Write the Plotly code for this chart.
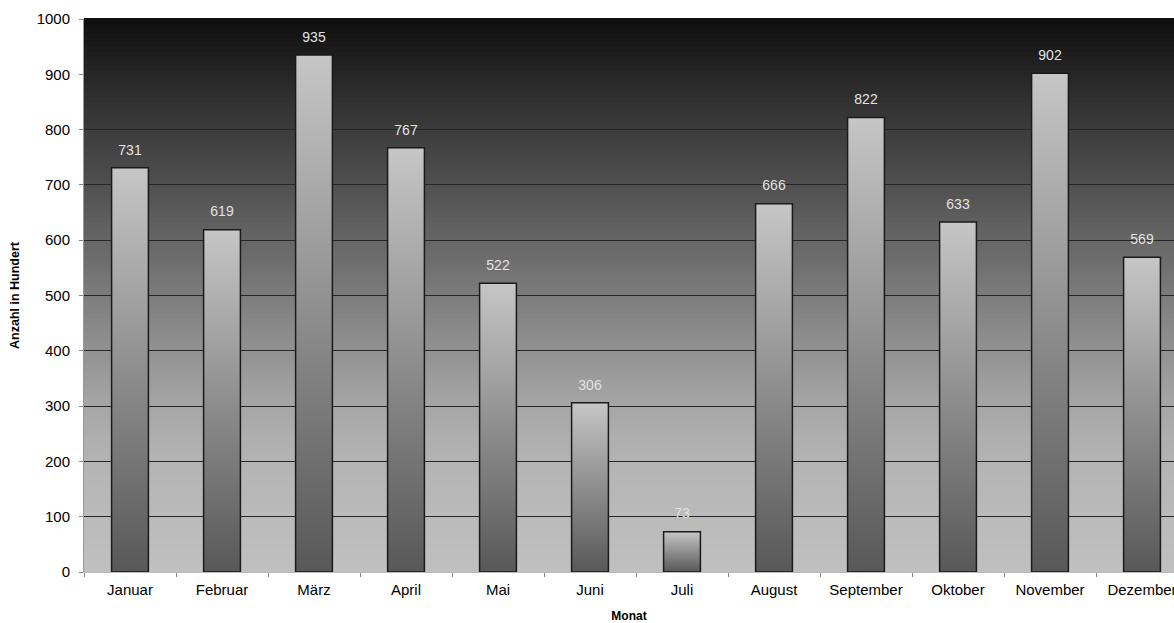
import plotly.graph_objects as go

months = ["Januar", "Februar", "März", "April", "Mai", "Juni", "Juli",
          "August", "September", "Oktober", "November", "Dezember"]
values = [731, 619, 935, 767, 522, 306, 73, 666, 822, 633, 902, 569]
y_ticks = [0, 100, 200, 300, 400, 500, 600, 700, 800, 900, 1000]

FONT = "Liberation Sans, Arial, sans-serif"
BAR_W = 0.4
X_RANGE = [-0.5, 11.5 - 14 / 92]

fig = go.Figure()

# invisible bar trace carrying the values on the category axis
fig.add_trace(go.Bar(
    x=months, y=values, width=BAR_W,
    marker=dict(color="rgba(0,0,0,0)", line=dict(width=0)),
    textposition="none", hoverinfo="x+y", showlegend=False,
))

# gradient-filled bars drawn on a hidden numeric overlay axis
for i, v in enumerate(values):
    fig.add_trace(go.Scatter(
        x=[i - BAR_W / 2, i + BAR_W / 2, i + BAR_W / 2, i - BAR_W / 2, i - BAR_W / 2],
        y=[0, 0, v, v, 0],
        xaxis="x2", mode="lines", fill="toself",
        line=dict(color="#1a1a1a", width=1.5),
        fillgradient=dict(type="vertical",
                          colorscale=[[0, "#585858"], [0.5, "#8e8e8e"], [1, "#c6c6c6"]]),
        hoverinfo="skip", showlegend=False,
    ))

# value labels
fig.add_trace(go.Scatter(
    x=list(range(len(values))), y=values, xaxis="x2",
    mode="markers+text", text=[str(v) for v in values], textposition="top center",
    marker=dict(size=14, color="rgba(0,0,0,0)"),
    textfont=dict(family=FONT, size=14, color="#e2e2e2"),
    hoverinfo="skip", showlegend=False,
))

# background gradient (plot area), dark at top -> light at bottom
bg_stops = [(0.0, 0xc0), (0.2, 0xb4), (0.3, 0xa6), (0.4, 0x92), (0.5, 0x7c),
            (0.6, 0x66), (0.7, 0x50), (0.8, 0x3c), (0.9, 0x26), (1.0, 0x0e)]
shapes = []
N = 120
for k in range(N):
    t = (k + 0.5) / N
    for j in range(len(bg_stops) - 1):
        a, ca = bg_stops[j]
        b, cb = bg_stops[j + 1]
        if a <= t <= b:
            c = int(round(ca + (cb - ca) * (t - a) / (b - a)))
            break
    shapes.append(dict(type="rect", xref="paper", yref="paper",
                       x0=0, x1=1, y0=k / N, y1=(k + 1) / N + 0.002,
                       fillcolor=f"rgb({c},{c},{c})", line=dict(width=0),
                       layer="below"))

fig.update_layout(
    width=1174, height=623, autosize=False,
    margin=dict(l=84, r=0, t=19, b=51),
    paper_bgcolor="white", plot_bgcolor="#c0c0c0",
    font=dict(family=FONT, size=15, color="black"),
    shapes=shapes,
    xaxis=dict(type="category", range=X_RANGE, tickson="boundaries",
               ticks="outside", ticklen=4, tickcolor="#888",
               showgrid=False, showline=True, linecolor="#bbbbbb", linewidth=1,
               tickfont=dict(size=15), ticklabelstandoff=4, automargin=False,
               title=dict(text="<b>Monat</b>", font=dict(size=12), standoff=16)),
    xaxis2=dict(overlaying="x", range=X_RANGE, visible=False, showgrid=False),
    yaxis=dict(range=[0, 1000], tickvals=y_ticks, ticks="outside", ticklen=4,
               tickcolor="#888", showgrid=True, gridcolor="#262626", gridwidth=1.3,
               showline=True, linecolor="#999999", linewidth=1, zeroline=False,
               tickfont=dict(size=15), ticklabelstandoff=6, automargin=False,
               title=dict(text="<b>Anzahl in Hundert</b>", font=dict(size=12.5), standoff=14)),
    bargap=0.6,
)

fig.write_html("out.html")
